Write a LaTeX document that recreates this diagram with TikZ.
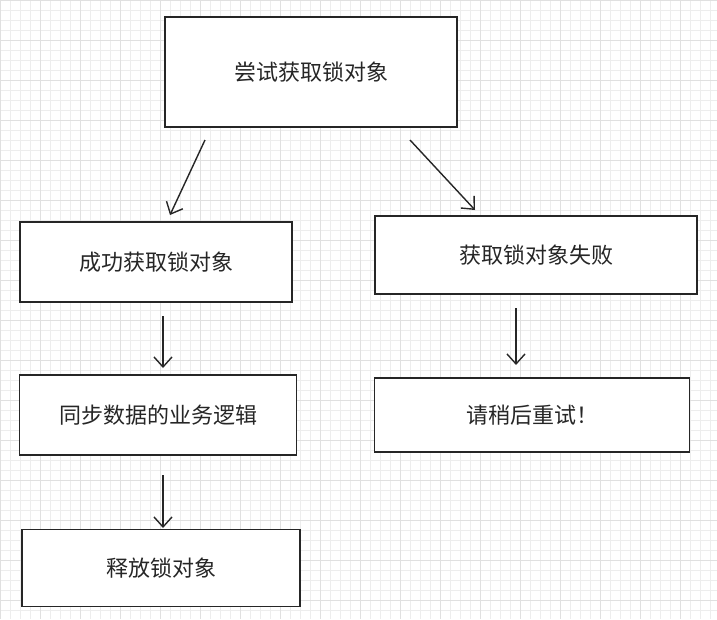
\documentclass[tikz,border=0pt]{standalone}
\usepackage{fontspec}
\setmainfont{Noto Sans CJK SC}
\usetikzlibrary{arrows.meta}
\begin{document}
\begin{tikzpicture}[x=1pt,y=-1pt,
  box/.style={draw=black!85,line width=1.4pt,fill=white,inner sep=0pt,font=\fontsize{22}{26}\selectfont,text=black!85},
  arr/.style={line width=1.4pt,draw=black!85,-{Straight Barb[length=10pt,width=18pt]}}]
\fill[white] (0,0) rectangle (717,619);
\useasboundingbox (0,0) rectangle (717,619);
\foreach \i in {0,10,...,717} \draw[black!7,line width=0.5pt] (\i,0) -- (\i,619);
\foreach \i in {0,10,...,619} \draw[black!7,line width=0.5pt] (0,\i) -- (717,\i);
\foreach \i in {0,40,...,717} \draw[black!12,line width=0.6pt] (\i,0) -- (\i,619);
\foreach \i in {0,40,...,619} \draw[black!12,line width=0.6pt] (0,\i) -- (717,\i);
\node[box,minimum width=292pt,minimum height=110pt] (a) at (311,72) {尝试获取锁对象};
\node[box,minimum width=272pt,minimum height=80pt] (b) at (156,262) {成功获取锁对象};
\node[box,minimum width=322pt,minimum height=78pt] (c) at (536,255) {获取锁对象失败};
\node[box,minimum width=277pt,minimum height=80pt] (d) at (158,415) {同步数据的业务逻辑};
\node[box,minimum width=315pt,minimum height=74pt] (e) at (532,415) {请稍后重试！};
\node[box,minimum width=278pt,minimum height=77pt] (f) at (161,568) {释放锁对象};
\coordinate (a1) at (205,140); \coordinate (a2) at (170,215);
\coordinate (a3) at (410,140); \coordinate (a4) at (475,210);
\coordinate (b1) at (163,316); \coordinate (b2) at (163,368);
\coordinate (c1) at (516,308); \coordinate (c2) at (516,365);
\coordinate (d1) at (163,475); \coordinate (d2) at (163,528);
\draw[arr] (a1) -- (a2);
\draw[arr] (a3) -- (a4);
\draw[arr] (b1) -- (b2);
\draw[arr] (c1) -- (c2);
\draw[arr] (d1) -- (d2);
\end{tikzpicture}
\end{document}
